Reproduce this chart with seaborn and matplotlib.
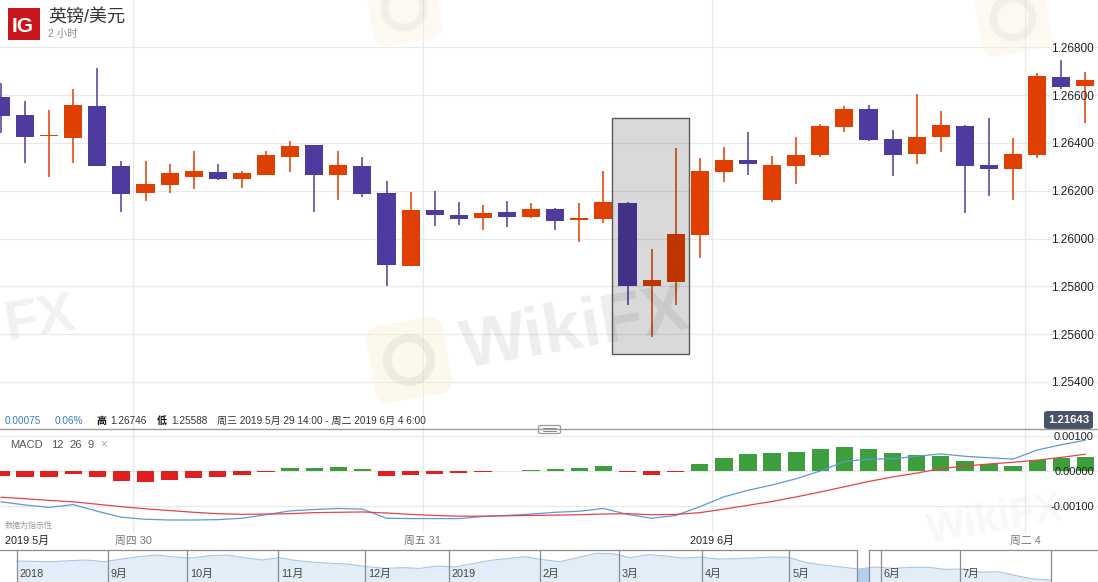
import numpy as np
import pandas as pd
import matplotlib
matplotlib.use("Agg")
import matplotlib.pyplot as plt
import seaborn as sns
from matplotlib.patches import Rectangle, FancyBboxPatch, Circle
from matplotlib.lines import Line2D
from matplotlib.transforms import blended_transform_factory as blend, Affine2D

# ---------------- data ----------------
opens = [1.26593, 1.26516, 1.26429, 1.26422, 1.26554, 1.26303, 1.26192, 1.26224, 1.26259, 1.26278,
         1.26250, 1.26267, 1.26343, 1.26391, 1.26267, 1.26303, 1.26190, 1.25886, 1.26118, 1.26098,
         1.26087, 1.26111, 1.26091, 1.26123, 1.26079, 1.26083, 1.26149, 1.25800, 1.25819, 1.26016,
         1.26280, 1.26328, 1.26161, 1.26305, 1.26349, 1.26468, 1.26542, 1.26416, 1.26355, 1.26426,
         1.26471, 1.26309, 1.26292, 1.26351, 1.26676, 1.26639]
closes = [1.26513, 1.26426, 1.26433, 1.26559, 1.26305, 1.26187, 1.26228, 1.26274, 1.26283, 1.26250,
          1.26274, 1.26349, 1.26387, 1.26267, 1.26308, 1.26187, 1.25890, 1.26118, 1.26100, 1.26083,
          1.26107, 1.26091, 1.26122, 1.26074, 1.26086, 1.26153, 1.25803, 1.25826, 1.26019, 1.26282,
          1.26328, 1.26313, 1.26308, 1.26350, 1.26471, 1.26542, 1.26413, 1.26351, 1.26425, 1.26475,
          1.26305, 1.26292, 1.26354, 1.26681, 1.26635, 1.26663]
highs = [1.26650, 1.26575, 1.26538, 1.26624, 1.26715, 1.26324, 1.26324, 1.26312, 1.26367, 1.26312,
         1.26282, 1.26366, 1.26408, 1.26391, 1.26366, 1.26341, 1.26240, 1.26195, 1.26199, 1.26153,
         1.26140, 1.26157, 1.26149, 1.26126, 1.26149, 1.26282, 1.26153, 1.25956, 1.26378, 1.26337,
         1.26383, 1.26447, 1.26345, 1.26426, 1.26479, 1.26554, 1.26559, 1.26454, 1.26605, 1.26533,
         1.26475, 1.26504, 1.26419, 1.26692, 1.26746, 1.26697]
lows = [1.26441, 1.26315, 1.26259, 1.26315, 1.26303, 1.26112, 1.26158, 1.26192, 1.26208, 1.26246,
        1.26213, 1.26267, 1.26280, 1.26112, 1.26162, 1.26175, 1.25803, 1.25886, 1.26054, 1.26058,
        1.26037, 1.26049, 1.26087, 1.26037, 1.25987, 1.26066, 1.25723, 1.25588, 1.25723, 1.25920,
        1.26238, 1.26266, 1.26154, 1.26228, 1.26340, 1.26444, 1.26409, 1.26263, 1.26313, 1.26363,
        1.26105, 1.26179, 1.26162, 1.26336, 1.26626, 1.26485]

macd_line = [-0.00088, -0.00097, -0.00104, -0.00096, -0.00115, -0.00132, -0.00138, -0.00140, -0.00140, -0.00139,
             -0.00135, -0.00125, -0.00114, -0.00110, -0.00107, -0.00109, -0.00135, -0.00136, -0.00136, -0.00136,
             -0.00130, -0.00127, -0.00123, -0.00118, -0.00115, -0.00107, -0.00124, -0.00135, -0.00127, -0.00102,
             -0.00074, -0.00055, -0.00040, -0.00022, 0.00000, 0.00027, 0.00034, 0.00035, 0.00042, 0.00049,
             0.00042, 0.00038, 0.00034, 0.00060, 0.00075, 0.00088]
signal_line = [-0.00075, -0.00079, -0.00084, -0.00088, -0.00095, -0.00102, -0.00108, -0.00113, -0.00118, -0.00122,
               -0.00124, -0.00123, -0.00122, -0.00119, -0.00118, -0.00117, -0.00120, -0.00124, -0.00127, -0.00129,
               -0.00129, -0.00128, -0.00127, -0.00126, -0.00125, -0.00123, -0.00122, -0.00125, -0.00124, -0.00119,
               -0.00109, -0.00098, -0.00087, -0.00074, -0.00060, -0.00045, -0.00030, -0.00017, -0.00006, 0.00007,
               0.00014, 0.00020, 0.00025, 0.00031, 0.00039, 0.00048]
macd_hist = [-0.00013, -0.00018, -0.00018, -0.00009, -0.00017, -0.00029, -0.00031, -0.00027, -0.00021, -0.00016,
             -0.00011, -0.00003, 0.00009, 0.00008, 0.00011, 0.00006, -0.00014, -0.00012, -0.00009, -0.00007,
             -0.00003, 0.00000, 0.00004, 0.00006, 0.00008, 0.00015, -0.00004, -0.00011, -0.00003, 0.00021,
             0.00038, 0.00048, 0.00052, 0.00054, 0.00062, 0.00069, 0.00062, 0.00051, 0.00046, 0.00043,
             0.00029, 0.00019, 0.00013, 0.00031, 0.00038, 0.00040]

price_ticks = [1.254, 1.256, 1.258, 1.260, 1.262, 1.264, 1.266, 1.268]
macd_ticks = [0.001, 0.0, -0.001]
time_first_label = "2019 5月"
time_tick_labels = ["周四 30", "周五 31", "2019 6月", "周二 4"]
time_tick_at = [5.5, 17.5, 29.5, 42.5]          # candle index of each day boundary
highlight_candles = [25.36, 28.55]
highlight_prices = [1.25517, 1.26504]
last_price_label = "1.21643"

nav_values = [1.302, 1.301, 1.300, 1.303, 1.305, 1.300, 1.308, 1.315, 1.320, 1.314,
              1.311, 1.318, 1.320, 1.312, 1.305, 1.312, 1.303, 1.298, 1.295, 1.292,
              1.285, 1.280, 1.282, 1.280, 1.287, 1.284, 1.294, 1.304, 1.309, 1.315,
              1.306, 1.300, 1.312, 1.325, 1.324, 1.312, 1.321, 1.317, 1.311, 1.314,
              1.308, 1.309, 1.311, 1.314, 1.313, 1.298, 1.290, 1.284, 1.278, 1.284,
              1.280, 1.283, 1.283, 1.277, 1.278, 1.268, 1.270, 1.258, 1.248, 1.245]
nav_start, nav_end = "2018-08-01", "2019-08-01"
nav_month_labels = ["2018", "9月", "10月", "11月", "12月", "2019", "2月", "3月", "4月", "5月", "6月", "7月"]
nav_window = ["2019-05-24", "2019-05-29"]

# ---------------- style ----------------
sns.set_theme(style="white")
plt.rcParams["font.family"] = ["Liberation Sans", "Noto Sans CJK SC", "DejaVu Sans"]

W, H = 1098, 582
ORANGE, PURPLE = "#df3f00", "#4f3a9f"
GREEN, RED = "#3c9e3c", "#e11f1f"
BLUE, SIGRED = "#5d9ad3", "#e2454a"
GRID = "#e9e9e9"

fig = plt.figure(figsize=(W / 100, H / 100), dpi=100)
fig.patch.set_facecolor("white")


def rect(x0, y0, x1, y1):
    return [x0 / W, 1 - y1 / H, (x1 - x0) / W, (y1 - y0) / H]


def fx(x):
    return x / W


def fy(y):
    return 1 - y / H


CANDLE_PX, CANDLE_X0 = 24.1, 0.9
XLIM = (-CANDLE_X0 / CANDLE_PX, (W - CANDLE_X0) / CANDLE_PX)
n = len(opens)
idx = np.arange(n)

# ---------------- price panel ----------------
ax = fig.add_axes(rect(0, 0, W, 429))
ppx = 0.002 / 47.8
ax.set_xlim(*XLIM)
ax.set_ylim(1.268 - (429 - 47.3) * ppx, 1.268 + 47.3 * ppx)
ax.set_axis_off()
for p in price_ticks:
    ax.axhline(p, color=GRID, lw=0.9, zorder=0)
for t in time_tick_at:
    ax.axvline(t, color=GRID, lw=0.9, zorder=0)

o, c = np.array(opens), np.array(closes)
cols = np.where(c >= o, ORANGE, PURPLE)
ax.vlines(idx, lows, highs, colors=cols, lw=1.1, zorder=2)
ax.bar(idx, np.maximum(np.abs(c - o), 0.00004), bottom=np.minimum(o, c), width=0.75,
       color=cols, linewidth=0, zorder=3)

ax.add_patch(Rectangle((highlight_candles[0], highlight_prices[0]),
                       highlight_candles[1] - highlight_candles[0],
                       highlight_prices[1] - highlight_prices[0],
                       facecolor=(0, 0, 0, 0.15), edgecolor="#5a5a5a", lw=1.0, zorder=4))

tr = blend(ax.transAxes, ax.transData)
for p in price_ticks:
    ax.text(1094 / W, p - 0.00006, f"{p:.5f}", transform=tr, ha="right", va="center",
            fontsize=8.5, color="#222222", zorder=6)

# header
fig.add_artist(Rectangle((fx(8), fy(40)), 32 / W, 32 / H, transform=fig.transFigure,
                         facecolor="#c8161d", edgecolor="none"))
fig.text(fx(22.5), fy(27), "IG", color="white", fontsize=15, fontweight="bold",
         ha="center", va="center")
fig.text(fx(48), fy(17), "英镑/美元", fontsize=13, color="#333333", ha="left", va="center")
fig.text(fx(48), fy(34), "2 小时", fontsize=7.5, color="#888888", ha="left", va="center")

# info bar
iy = fy(420.7)
fig.text(fx(5), iy, "0.00075", fontsize=7.2, color="#3a7cc3", va="center")
fig.text(fx(55), iy, "0.06%", fontsize=7.2, color="#3a7cc3", va="center")
fig.text(fx(96), iy, "高", fontsize=7.2, color="#111111", va="center", fontweight="bold")
fig.text(fx(110), iy, "1.26746", fontsize=7.2, color="#333333", va="center")
fig.text(fx(157), iy, "低", fontsize=7.2, color="#111111", va="center", fontweight="bold")
fig.text(fx(171), iy, "1.25588", fontsize=7.2, color="#333333", va="center")
fig.text(fx(217), iy, "周三 2019 5月 29 14:00 - 周二 2019 6月 4 6:00", fontsize=7.2,
         color="#333333", va="center")

# separator + handle
fig.add_artist(Line2D([0, 1], [fy(429.3), fy(429.3)], transform=fig.transFigure,
                      color="#9d9d9d", lw=1.0))
fig.add_artist(FancyBboxPatch((fx(538.5), fy(433.5)), 22 / W, 8 / H, transform=fig.transFigure,
                              boxstyle="round,pad=0,rounding_size=0.002",
                              facecolor="white", edgecolor="#999999", lw=0.9))
for yy in (427.8, 430.8):
    fig.add_artist(Line2D([fx(543), fx(556)], [fy(yy), fy(yy)], transform=fig.transFigure,
                          color="#888888", lw=0.7))

# last price badge
fig.add_artist(FancyBboxPatch((fx(1044), fy(429)), 49 / W, 18 / H, transform=fig.transFigure,
                              boxstyle="round,pad=0,rounding_size=0.004",
                              facecolor="#475468", edgecolor="none"))
fig.text(fx(1068.5), fy(420), last_price_label, fontsize=8.2, color="white",
         fontweight="bold", ha="center", va="center")

# ---------------- MACD panel ----------------
axm = fig.add_axes(rect(0, 430, W, 533))
for v in macd_ticks:
    axm.axhline(v, color=GRID, lw=0.9, zorder=0)
for t in time_tick_at:
    axm.axvline(t, color=GRID, lw=0.9, zorder=0)

hist = np.array(macd_hist)
sns.barplot(x=idx, y=hist, hue=np.where(hist >= 0, "pos", "neg"),
            palette={"pos": GREEN, "neg": RED}, native_scale=True, width=0.72,
            dodge=False, saturation=1, legend=False, errorbar=None, linewidth=0,
            ax=axm, zorder=2)
sns.lineplot(x=idx, y=macd_line, color=BLUE, lw=0.9, ax=axm, zorder=3)
sns.lineplot(x=idx, y=signal_line, color=SIGRED, lw=0.9, ax=axm, zorder=3)
axm.set_xlim(*XLIM)
axm.set_ylim(-(533 - 471) / 35 * 0.001, (471 - 430) / 35 * 0.001)
axm.set_axis_off()

trm = blend(axm.transAxes, axm.transData)
for v in macd_ticks:
    axm.text(1094 / W, v - 0.00004, f"{v:.5f}", transform=trm, ha="right", va="center",
             fontsize=8, color="#222222", zorder=6)

fig.text(fx(10), fy(445), "MACD", fontsize=8, color="#555555", va="center")
fig.text(fx(51), fy(445), "12", fontsize=8, color="#555555", va="center")
fig.text(fx(69), fy(445), "26", fontsize=8, color="#555555", va="center")
fig.text(fx(88), fy(445), "9", fontsize=8, color="#555555", va="center")
fig.text(fx(100), fy(444.5), "×", fontsize=8.5, color="#aaaaaa", va="center")
fig.text(fx(5), fy(525.5), "数据为指示性", fontsize=5.8, color="#999999", va="center")

# time axis labels
ttr = blend(axm.transData, fig.transFigure)
fig.text(fx(5), fy(541), time_first_label, fontsize=7.8, color="#222222", va="center")
for t, lab in zip(time_tick_at, time_tick_labels):
    colr = "#222222" if "月" in lab else "#777777"
    axm.text(t, fy(541), lab, transform=ttr, fontsize=7.8, color=colr, ha="center", va="center")

# ---------------- navigator ----------------
axn = fig.add_axes(rect(0, 550, W, 582))
B = np.busday_count(nav_start, nav_end)
scale = (1051 - 16.5) / B
nav_x = np.linspace(0, B, len(nav_values))
axn.fill_between(nav_x, nav_values, 1.2, color="#e2edf8", lw=0, zorder=1)
sns.lineplot(x=nav_x, y=nav_values, color="#a9c5e5", lw=0.8, ax=axn, zorder=2)
w0 = np.busday_count(nav_start, nav_window[0])
w1 = np.busday_count(nav_start, nav_window[1])
xx = np.linspace(w0, w1, 20)
axn.fill_between(xx, np.interp(xx, nav_x, nav_values), 1.2, color="#b4cfec", lw=0, zorder=1.5)
axn.set_xlim(-16.5 / scale, (W - 16.5) / scale)
axn.set_ylim(1.239, 1.335)
axn.set_axis_off()

months = pd.date_range(nav_start, nav_end, freq="MS")
mpos = [np.busday_count(nav_start, d.strftime("%Y-%m-%d")) for d in months]
for p in mpos + [w0, w1]:
    axn.axvline(p, color="#8c8c8c", lw=0.9, zorder=3)
ntr = blend(axn.transData, fig.transFigure)
for p, lab in zip(mpos, nav_month_labels):
    axn.text(p + 3 / scale, fy(574), lab, transform=ntr, fontsize=7.8, color="#444444",
             ha="left", va="center")
fig.add_artist(Line2D([0, fx(856.5)], [fy(550.3), fy(550.3)], transform=fig.transFigure,
                      color="#8c8c8c", lw=0.9))
fig.add_artist(Line2D([fx(868.5), 1], [fy(550.3), fy(550.3)], transform=fig.transFigure,
                      color="#8c8c8c", lw=0.9))


# ---------------- faint WikiFX watermarks ----------------
def logo(cx, cy, size, alpha=1.0):
    rot = Affine2D().rotate_deg_around(cx, H - cy, 10)
    box = FancyBboxPatch((cx - size / 2, H - cy - size / 2), size, size,
                         boxstyle=f"round,pad=0,rounding_size={size * 0.18}",
                         facecolor="#fbf1d6", edgecolor="none", alpha=0.45 * alpha,
                         transform=rot, zorder=5)
    fig.add_artist(box)
    ring = Circle((cx, H - cy), size * 0.28, facecolor="none", edgecolor="#000000",
                  lw=size * 0.08, alpha=0.05 * alpha, transform=rot, zorder=5)
    fig.add_artist(ring)


logo(409, 360, 78)
logo(404, 8, 70, alpha=0.8)
logo(1013, 18, 70, alpha=0.8)
fig.text(fx(575), fy(330), "WikiFX", fontsize=50, fontweight="bold", color="#000000",
         alpha=0.07, rotation=10, ha="center", va="center")
fig.text(fx(40), fy(320), "FX", fontsize=40, fontweight="bold", color="#000000",
         alpha=0.06, rotation=10, ha="center", va="center")
fig.text(fx(995), fy(520), "WikiFX", fontsize=30, fontweight="bold", color="#000000",
         alpha=0.03, rotation=10, ha="center", va="center")

fig.savefig("out.png", dpi=100, facecolor="white")
